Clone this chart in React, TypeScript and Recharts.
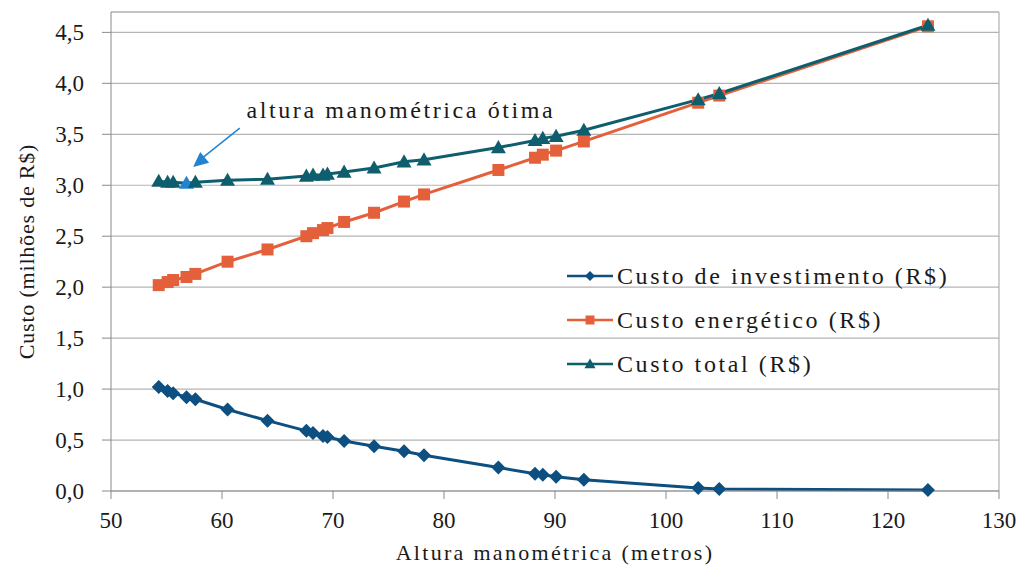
import React from 'react';
import {
  LineChart,
  Line,
  XAxis,
  YAxis,
  CartesianGrid,
  ReferenceLine,
  ReferenceDot,
} from 'recharts';

const alturas = [
  54.3, 55.1, 55.6, 56.8, 57.6, 60.5, 64.1, 67.6, 68.2, 69.1, 69.5, 71.0,
  73.7, 76.4, 78.2, 84.9, 88.2, 88.9, 90.1, 92.6, 102.9, 104.8, 123.6,
];
const custoInvestimento = [
  1.02, 0.98, 0.96, 0.92, 0.9, 0.8, 0.69, 0.59, 0.57, 0.54, 0.53, 0.49,
  0.44, 0.39, 0.35, 0.23, 0.17, 0.16, 0.14, 0.11, 0.03, 0.02, 0.01,
];
const custoEnergetico = [
  2.02, 2.05, 2.07, 2.1, 2.13, 2.25, 2.37, 2.5, 2.53, 2.56, 2.58, 2.64,
  2.73, 2.84, 2.91, 3.15, 3.27, 3.3, 3.34, 3.43, 3.81, 3.88, 4.56,
];
const custoTotal = [
  3.04, 3.03, 3.03, 3.02, 3.03, 3.05, 3.06, 3.09, 3.1, 3.1, 3.11, 3.13,
  3.17, 3.23, 3.25, 3.37, 3.44, 3.46, 3.48, 3.54, 3.84, 3.9, 4.57,
];
const xTicks = [50, 60, 70, 80, 90, 100, 110, 120, 130];
const yTicks = [0, 0.5, 1, 1.5, 2, 2.5, 3, 3.5, 4, 4.5];
const indiceOtimo = 3;

const data = alturas.map((x, i) => ({
  x,
  inv: custoInvestimento[i],
  en: custoEnergetico[i],
  tot: custoTotal[i],
}));

const AZUL = '#0c4f80';
const LARANJA = '#e4603a';
const VERDE = '#0f5e6e';
const CLARO = '#2284d0';
const FONT = 'Liberation Serif, Times New Roman, serif';
const TXT = '#1a1a1a';

const diamond = (cx: number, cy: number, s = 7) =>
  `M${cx},${cy - s}L${cx + s},${cy}L${cx},${cy + s}L${cx - s},${cy}Z`;
const triangle = (cx: number, cy: number, s = 7.5) =>
  `M${cx},${cy - s}L${cx + s},${cy + s * 0.75}L${cx - s},${cy + s * 0.75}Z`;

const DiamondDot = (p: any) =>
  p.cx == null ? null : <path key={p.index} d={diamond(p.cx, p.cy)} fill={AZUL} />;
const SquareDot = (p: any) =>
  p.cx == null ? null : (
    <rect key={p.index} x={p.cx - 6} y={p.cy - 6} width={12} height={12} fill={LARANJA} />
  );
const TriangleDot = (p: any) =>
  p.cx == null ? null : (
    <path key={p.index} d={triangle(p.cx, p.cy)} fill={p.index === indiceOtimo ? CLARO : VERDE} />
  );

const legendItems = [
  { label: 'Custo de investimento (R$)', color: AZUL, kind: 'd' },
  { label: 'Custo energético (R$)', color: LARANJA, kind: 's' },
  { label: 'Custo total (R$)', color: VERDE, kind: 't' },
];

const LegendBox = () => (
  <div
    style={{
      position: 'absolute',
      left: 566,
      top: 254,
      fontFamily: FONT,
      fontSize: 24,
      letterSpacing: 2.6,
      color: TXT,
    }}
  >
    {legendItems.map((it) => (
      <div key={it.label} style={{ display: 'flex', alignItems: 'center', height: 44 }}>
        <svg width={48} height={20} style={{ marginRight: 3 }}>
          <line x1={1} y1={10} x2={47} y2={10} stroke={it.color} strokeWidth={2.5} />
          {it.kind === 'd' && <path d={diamond(24, 10, 5)} fill={it.color} />}
          {it.kind === 's' && <rect x={19.5} y={5.5} width={9} height={9} fill={it.color} />}
          {it.kind === 't' && <path d={triangle(24, 10, 5.5)} fill={it.color} />}
        </svg>
        <span>{it.label}</span>
      </div>
    ))}
  </div>
);

const ArrowHead = (p: any) => {
  const { cx, cy } = p;
  if (cx == null) return null;
  const ang = Math.atan2(39, -47);
  const len = 15;
  const w = 7;
  const bx = cx - len * Math.cos(ang);
  const by = cy - len * Math.sin(ang);
  const nx = -Math.sin(ang) * w;
  const ny = Math.cos(ang) * w;
  return (
    <path d={`M${cx},${cy}L${bx + nx},${by + ny}L${bx - nx},${by - ny}Z`} fill={CLARO} />
  );
};

const AnnotText = (p: any) =>
  p.cx == null ? null : (
    <text
      x={p.cx}
      y={p.cy}
      style={{ fontFamily: FONT, fontSize: 24, letterSpacing: 2.6 }}
      fill={TXT}
    >
      altura manométrica ótima
    </text>
  );

const XTick = (p: any) => (
  <text
    x={p.x}
    y={p.y + 27}
    textAnchor="middle"
    style={{ fontFamily: FONT, fontSize: 23 }}
    fill={TXT}
  >
    {p.payload.value}
  </text>
);

const YTick = (p: any) => (
  <text
    x={p.x - 16}
    y={p.y + 8}
    textAnchor="end"
    style={{ fontFamily: FONT, fontSize: 23 }}
    fill={TXT}
  >
    {Number(p.payload.value).toFixed(1).replace('.', ',')}
  </text>
);

export default function App() {
  return (
    <div style={{ position: 'absolute', left: 0, top: 0, background: '#fff' }}>
      <LineChart
        width={1021}
        height={582}
        data={data}
        margin={{ top: 12, right: 22, left: 0, bottom: 22 }}
      >
        <CartesianGrid vertical={false} stroke="#b4b4b4" strokeWidth={1.2} />
        <XAxis
          dataKey="x"
          type="number"
          domain={[50, 130]}
          ticks={xTicks}
          interval={0}
          stroke="#8a8a8a"
          tickSize={8}
          height={69}
          tick={XTick}
          label={{
            value: 'Altura manométrica (metros)',
            position: 'insideBottom',
            offset: 0,
            style: { fill: TXT, fontFamily: FONT, fontSize: 22, letterSpacing: 2.3 },
          }}
        />
        <YAxis
          type="number"
          domain={[0, 4.7]}
          ticks={yTicks}
          interval={0}
          width={111}
          stroke="#8a8a8a"
          tickSize={9}
          tick={YTick}
          label={{
            value: 'Custo (milhões de R$)',
            angle: -90,
            position: 'insideLeft',
            offset: 26,
            style: { textAnchor: 'middle', fill: TXT, fontFamily: FONT, fontSize: 22, letterSpacing: 0.8 },
          }}
        />
        <ReferenceLine y={4.7} stroke="#a9b2b2" strokeWidth={1.2} />
        <ReferenceLine x={130} stroke="#a9b2b2" strokeWidth={1.2} />
        <Line
          dataKey="inv"
          name="Custo de investimento (R$)"
          type="linear"
          stroke={AZUL}
          strokeWidth={3}
          dot={DiamondDot}
          activeDot={false}
          isAnimationActive={false}
        />
        <Line
          dataKey="en"
          name="Custo energético (R$)"
          type="linear"
          stroke={LARANJA}
          strokeWidth={3}
          dot={SquareDot}
          activeDot={false}
          isAnimationActive={false}
        />
        <Line
          dataKey="tot"
          name="Custo total (R$)"
          type="linear"
          stroke={VERDE}
          strokeWidth={3}
          dot={TriangleDot}
          activeDot={false}
          isAnimationActive={false}
        />
        <ReferenceLine
          segment={[
            { x: 61.6, y: 3.56 },
            { x: 57.9, y: 3.24 },
          ]}
          stroke={CLARO}
          strokeWidth={1.5}
        />
        <ReferenceDot x={57.4} y={3.18} r={0} shape={ArrowHead} />
        <ReferenceDot x={62.2} y={3.66} r={0} shape={AnnotText} />
      </LineChart>
      <LegendBox />
    </div>
  );
}
